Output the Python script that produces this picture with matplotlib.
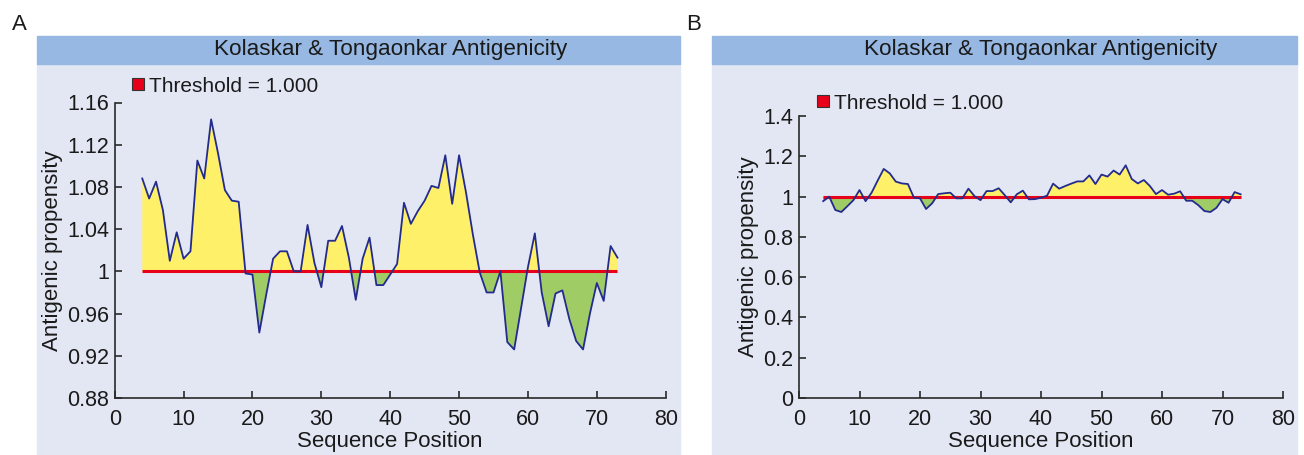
import matplotlib
matplotlib.use("Agg")
import matplotlib.pyplot as plt
from matplotlib.patches import Rectangle
from matplotlib.lines import Line2D
import numpy as np

plt.rcParams['font.family'] = ['Liberation Sans', 'DejaVu Sans']

# ---------------- data ----------------
seq_pos = list(range(4, 74))
threshold = 1.0

propensity_a = [1.088, 1.069, 1.085, 1.058, 1.010, 1.037, 1.012, 1.019, 1.105, 1.088,
                1.144, 1.112, 1.077, 1.067, 1.066, 0.998, 0.997, 0.942, 0.978, 1.012,
                1.019, 1.019, 1.000, 1.000, 1.044, 1.008, 0.985, 1.029, 1.029, 1.043,
                1.013, 0.973, 1.012, 1.032, 0.987, 0.987, 0.997, 1.007, 1.065, 1.045,
                1.057, 1.067, 1.081, 1.079, 1.110, 1.064, 1.110, 1.075, 1.035, 0.999,
                0.980, 0.980, 1.000, 0.933, 0.926, 0.965, 1.004, 1.036, 0.980, 0.948,
                0.979, 0.982, 0.955, 0.934, 0.926, 0.960, 0.989, 0.972, 1.024, 1.013]

propensity_b = [0.978, 1.000, 0.934, 0.924, 0.953, 0.983, 1.033, 0.978, 1.020, 1.080,
                1.138, 1.116, 1.075, 1.066, 1.063, 0.995, 0.992, 0.939, 0.967, 1.013,
                1.017, 1.020, 0.992, 0.992, 1.040, 1.003, 0.983, 1.028, 1.028, 1.042,
                1.008, 0.972, 1.012, 1.030, 0.987, 0.988, 0.995, 1.005, 1.065, 1.040,
                1.053, 1.065, 1.076, 1.076, 1.106, 1.063, 1.110, 1.100, 1.130, 1.110,
                1.156, 1.088, 1.066, 1.083, 1.053, 1.013, 1.033, 1.010, 1.015, 1.027,
                0.980, 0.980, 0.958, 0.929, 0.924, 0.945, 0.988, 0.970, 1.023, 1.012]

xticks = [0, 10, 20, 30, 40, 50, 60, 70, 80]
yticks_a = [0.88, 0.92, 0.96, 1.00, 1.04, 1.08, 1.12, 1.16]
ylabels_a = ["0.88", "0.92", "0.96", "1", "1.04", "1.08", "1.12", "1.16"]
yticks_b = [0, 0.2, 0.4, 0.6, 0.8, 1.0, 1.2, 1.4]
ylabels_b = ["0", "0.2", "0.4", "0.6", "0.8", "1", "1.2", "1.4"]

title = "Kolaskar & Tongaonkar Antigenicity"
legend_label = "Threshold = 1.000"

# ---------------- style ----------------
BG = "#e3e7f4"
BAR = "#96b8e2"
YEL = "#fff06a"
GRN = "#a0cc66"
NAVY = "#232b8c"
RED = "#e8001a"
SPINE = "#2a2a2a"

W, H = 1304, 455
fig = plt.figure(figsize=(W / 100, H / 100), dpi=100)

def px(x0, y0, x1, y1):
    """pixel box (top-left origin) -> figure fraction [l, b, w, h]"""
    return [x0 / W, 1 - y1 / H, (x1 - x0) / W, (y1 - y0) / H]

panels = [
    dict(bg=(37, 680), ax=(114.7, 102.5, 665.7, 398), letter="A", letter_x=19,
         y=propensity_a, ylim=(0.88, 1.16), yt=yticks_a, yl=ylabels_a,
         leg=(0.0267, 1.0558)),
    dict(bg=(712, 1297), ax=(799, 116.2, 1283, 398), letter="B", letter_x=694,
         y=propensity_b, ylim=(0, 1.4), yt=yticks_b, yl=ylabels_b,
         leg=(0.0324, 1.0468)),
]

for p in panels:
    bx0, bx1 = p["bg"]
    fig.patches.append(Rectangle((bx0 / W, 0), (bx1 - bx0) / W, 1 - 64 / H,
                                 transform=fig.transFigure, color=BG, zorder=-5))
    fig.patches.append(Rectangle((bx0 / W, 1 - 64 / H), (bx1 - bx0) / W, 28 / H,
                                 transform=fig.transFigure, color=BAR, zorder=-5))
    ax = fig.add_axes(px(*p["ax"]))
    ax.set_zorder(2)
    ax.set_facecolor("none")
    x = np.array(seq_pos)
    y = np.array(p["y"])
    ax.fill_between(x, y, threshold, where=y >= threshold, interpolate=True,
                    color=YEL, lw=0, zorder=1)
    ax.fill_between(x, y, threshold, where=y <= threshold, interpolate=True,
                    color=GRN, lw=0, zorder=1)
    ax.plot([seq_pos[0], seq_pos[-1]], [threshold, threshold], color=RED, lw=2.2,
            zorder=2, solid_capstyle="butt")
    ax.plot(x, y, color=NAVY, lw=1.3, zorder=3)
    ax.set_xlim(0, 80)
    ax.set_ylim(*p["ylim"])
    ax.set_xticks(xticks)
    ax.set_xticklabels([str(t) for t in xticks])
    ax.set_yticks(p["yt"])
    ax.set_yticklabels(p["yl"])
    for s in ("top", "right"):
        ax.spines[s].set_visible(False)
    for s in ("left", "bottom"):
        ax.spines[s].set_color(SPINE)
        ax.spines[s].set_linewidth(1.2)
    ax.tick_params(axis="x", direction="in", length=5, width=1.2, color=SPINE,
                   labelsize=15.5, pad=8, labelcolor="#1a1a1a")
    ax.tick_params(axis="y", direction="in", length=5, width=1.2, color=SPINE,
                   labelsize=15.5, pad=4, labelcolor="#1a1a1a")
    ax.set_xlabel("Sequence Position", fontsize=16, color="#1a1a1a", labelpad=1)
    ax.set_ylabel("Antigenic propensity", fontsize=16, color="#1a1a1a", labelpad=3)
    cx = (p["ax"][0] + p["ax"][2]) / 2
    fig.text(cx / W, 1 - 50 / H, title, ha="center", va="center",
             fontsize=16.2, color="#1a1a1a")
    fig.text(p["letter_x"] / W, 1 - 24 / H, p["letter"], ha="center",
             va="center", fontsize=16, color="#1a1a1a")
    handle = Line2D([], [], marker="s", linestyle="none", markersize=8.5,
                    markerfacecolor=RED, markeredgecolor="#333333",
                    markeredgewidth=0.8, label=legend_label)
    ax.legend(handles=[handle], loc="center left", bbox_to_anchor=p["leg"],
              frameon=False, handlelength=0.8, handletextpad=0.15,
              borderpad=0, borderaxespad=0, fontsize=15, labelcolor="#1a1a1a")

fig.savefig("out.png", dpi=100)
